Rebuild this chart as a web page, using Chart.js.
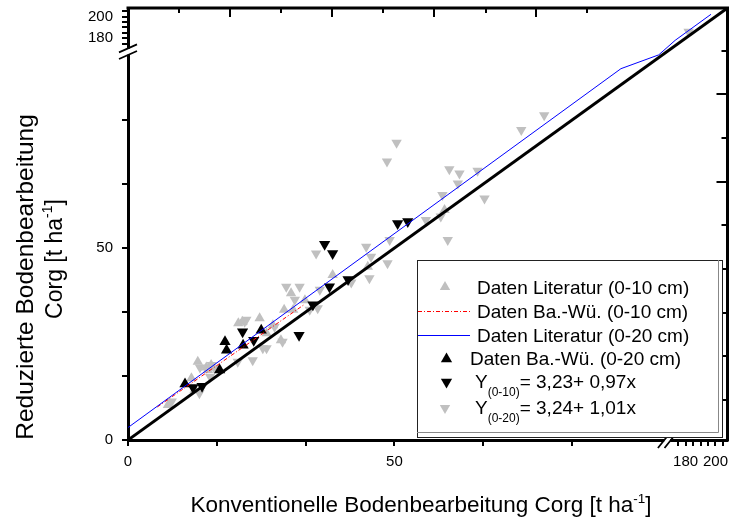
<!DOCTYPE html>
<html>
<head>
<meta charset="utf-8">
<script src="https://cdn.jsdelivr.net/npm/chart.js@4.4.1/dist/chart.umd.min.js"></script>
<style>
  html, body { margin: 0; padding: 0; background: #fff; }
  #wrap { width: 734px; height: 521px; }
</style>
</head>
<body>
<div id="wrap"><canvas id="myChart"></canvas></div>
<script>
// Achsenbruch: 0..101 linear, danach 167..208 gestaucht
const BRK = 101, UP0 = 167, K = 0.28, T_MAX = 112.5;
function tr(v) {
    if (v <= BRK) return v;
    if (v < UP0) return BRK;
    return BRK + (v - UP0) * K;
}

// Daten Literatur (0-10 cm)
const litUpX = [7.5, 11.9, 12.5, 13.1, 14.7, 15.0, 15.6, 20.7, 21.5, 24.7, 26.0, 27.2, 28.7, 29.3, 30.6, 31.0, 33.2,
    38.4, 45.0, 59.4];
const litUpY = [9.1, 16.1, 13.0, 20.4, 18.9, 18.2, 19.5, 30.4, 30.8, 31.7, 27.8, 29.9, 26.0, 33.9, 38.2, 33.9, 36.4,
    43.0, 45.1, 59.9];

// Y(0-20) graue Dreiecke
const lit20X = [8.2, 13.4, 13.5, 15.4, 15.7, 16.2, 20.6, 22.2, 23.4, 25.3, 26.0, 29.0, 27.5, 21.9, 29.7, 31.3, 34.1,
    35.6, 32.2, 36.0, 35.3, 41.9, 45.3, 44.7, 45.6, 48.7, 49.1, 48.6, 50.4, 55.9, 58.7, 60.0, 59.0, 61.9, 60.3, 62.2,
    65.6, 66.9, 73.8, 78.1, 182];
const lit20Y = [10.0, 12.2, 18.9, 16.5, 19.5, 18.7, 20.4, 31.3, 20.8, 23.9, 23.9, 25.6, 29.5, 30.8, 39.9, 36.5, 33.9,
    34.3, 39.9, 39.1, 48.6, 41.0, 42.1, 50.3, 47.7, 46.0, 52.1, 72.5, 77.4, 57.3, 58.2, 52.1, 63.8, 66.8, 70.5, 69.4,
    70.1, 62.9, 80.7, 84.6, 186];

// Daten Ba.-Wü. (0-20 cm)
const bw20X = [10.7, 17.2, 18.2, 18.5, 21.6, 25.0];
const bw20Y = [14.6, 18.2, 25.6, 23.4, 24.7, 28.6];

// Y(0-10) schwarze Dreiecke
const bw10X = [12.2, 13.9, 21.5, 23.6, 32.1, 34.7, 37.8, 41.3, 36.9, 38.4, 50.6, 52.5];
const bw10Y = [13.7, 14.0, 28.2, 26.0, 27.3, 35.2, 39.9, 41.8, 51.0, 48.6, 56.4, 56.9];

// Regressionslinien und 1:1-Linie
const lineLitX = [0, 92.5, 99.6, 173, 197];
const lineLitY = [3.24, 96.7, 100.3, 178, 202.2];
const lineBwX = [5.5, 33];
const lineBwY = [8.6, 35.2];
const diagX = [0, 208];
const diagY = [0, 208];

// Achsenbeschriftung
const tickLabels = [0, 50, 180, 200];
const minorTicks = [16.67, 33.33, 66.67, 83.33, 175, 185, 190, 195, 205];
const topTicks = [9.6, 19.2, 28.7, 38.3, 47.9, 57.5, 67.1, 76.6, 86.2];
const rightTicks = [10.5, 21.9, 33.2, 44.6, 55.9, 67.3, 78.6, 90.0, 101.3];

const GREY = '#c0c0c0';
const FONT = '"Liberation Sans", Arial, sans-serif';

function pts(xs, ys) {
    return xs.map((x, i) => ({ x: tr(x), y: tr(ys[i]) }));
}

function triangle(ctx, x, y, r, down, color) {
    const s = down ? -1 : 1;
    ctx.fillStyle = color;
    ctx.beginPath();
    ctx.moveTo(x, y - s * r);
    ctx.lineTo(x + r * 0.866, y + s * r / 2);
    ctx.lineTo(x - r * 0.866, y + s * r / 2);
    ctx.closePath();
    ctx.fill();
}

// Text mit Hoch-/Tiefstellung: parts = [[text, size, dy], ...]
function richText(ctx, parts, x, y) {
    let cx = x;
    parts.forEach(([t, size, dy]) => {
        ctx.font = size + 'px ' + FONT;
        ctx.fillText(t, cx, y + dy);
        cx += ctx.measureText(t).width;
    });
    return cx - x;
}

function richWidth(ctx, parts) {
    let w = 0;
    parts.forEach(([t, size]) => {
        ctx.font = size + 'px ' + FONT;
        w += ctx.measureText(t).width;
    });
    return w;
}

// feste Plotfläche, keine Extra-Ränder für überstehende Beschriftungen
function noPad(s) {
    s.paddingTop = 0;
    s.paddingBottom = 0;
    s.paddingLeft = 0;
    s.paddingRight = 0;
}

const axisDeco = {
    id: 'axisDeco',
    afterDraw(chart) {
        const { ctx, chartArea: a, scales: { x, y } } = chart;
        ctx.save();
        ctx.strokeStyle = '#000';
        ctx.lineCap = 'butt';

        // oberer und rechter Rahmen
        ctx.lineWidth = 3;
        ctx.beginPath();
        ctx.moveTo(a.left - 1.5, a.top);
        ctx.lineTo(a.right, a.top);
        ctx.lineTo(a.right, a.bottom + 1.5);
        ctx.stroke();

        // Striche unten / links (nach außen)
        ctx.lineWidth = 2;
        ctx.beginPath();
        [...tickLabels, ...minorTicks].forEach(v => {
            const px = Math.round(x.getPixelForValue(tr(v)));
            ctx.moveTo(px, a.bottom);
            ctx.lineTo(px, a.bottom + 6);
            const py = Math.round(y.getPixelForValue(tr(v)));
            ctx.moveTo(a.left - 6, py);
            ctx.lineTo(a.left, py);
        });
        // oben / rechts (nach innen)
        topTicks.forEach((v, i) => {
            const px = Math.round(x.getPixelForValue(v));
            ctx.moveTo(px, a.top);
            ctx.lineTo(px, a.top + (i % 2 ? 9 : 5));
        });
        rightTicks.forEach((v, i) => {
            const py = Math.round(y.getPixelForValue(v));
            ctx.moveTo(a.right, py);
            ctx.lineTo(a.right - (i % 2 ? 11 : 6), py);
        });
        ctx.stroke();

        // Bruchzeichen
        const bx = x.getPixelForValue(BRK) + 1;
        const by = y.getPixelForValue(BRK) - 0.5;
        ctx.fillStyle = '#fff';
        ctx.fillRect(bx - 3, a.bottom - 3, 6, 6);
        ctx.fillRect(a.left - 3, by - 3, 6, 6);
        ctx.lineWidth = 1.8;
        ctx.beginPath();
        [-3.3, 3.3].forEach(d => {
            ctx.moveTo(bx + d - 6, a.bottom + 8);
            ctx.lineTo(bx + d + 6, a.bottom - 7);
            ctx.moveTo(a.left - 9, by - d + 4);
            ctx.lineTo(a.left + 9, by - d - 4);
        });
        ctx.stroke();

        // Achsentitel
        ctx.fillStyle = '#000';
        ctx.textBaseline = 'alphabetic';
        ctx.textAlign = 'left';
        const xt = [['Konventionelle Bodenbearbeitung Corg [t ha', 22.5, 0], ['-1', 13.5, -9], [']', 22.5, 0]];
        richText(ctx, xt, 421 - richWidth(ctx, xt) / 2, 512);

        ctx.save();
        ctx.translate(33, 277);
        ctx.rotate(-Math.PI / 2);
        ctx.font = '24.5px ' + FONT;
        ctx.textAlign = 'center';
        ctx.fillText('Reduzierte Bodenbearbeitung', 0, 0);
        ctx.restore();

        ctx.save();
        ctx.translate(61.5, 259);
        ctx.rotate(-Math.PI / 2);
        ctx.textAlign = 'left';
        const yt = [['Corg [t ha', 23, 0], ['-1', 14, -10], [']', 23, 0]];
        richText(ctx, yt, -richWidth(ctx, yt) / 2, 0);
        ctx.restore();

        // Legende
        const L = 417, T = 260, R = 722, B = 437;
        ctx.fillStyle = '#fff';
        ctx.fillRect(L, T, R - L, B - T);
        ctx.lineWidth = 1;
        ctx.strokeStyle = '#222';
        ctx.strokeRect(L + 0.5, T + 0.5, R - L, B - T);
        ctx.strokeStyle = '#888';
        ctx.beginPath();
        ctx.moveTo(L, B - 4.5);
        ctx.lineTo(R - 3.5, B - 4.5);
        ctx.lineTo(R - 3.5, T);
        ctx.stroke();

        triangle(ctx, 445, 287, 6, false, GREY);
        ctx.lineWidth = 1;
        ctx.strokeStyle = '#ff0000';
        ctx.setLineDash([4, 2, 1, 2]);
        ctx.beginPath();
        ctx.moveTo(418, 311.5);
        ctx.lineTo(470, 311.5);
        ctx.stroke();
        ctx.setLineDash([]);
        ctx.strokeStyle = '#0000ff';
        ctx.beginPath();
        ctx.moveTo(418, 335.5);
        ctx.lineTo(470, 335.5);
        ctx.stroke();
        triangle(ctx, 446.5, 359, 6.5, false, '#000');
        triangle(ctx, 446.5, 382, 6.5, true, '#000');
        triangle(ctx, 445, 408, 6, true, GREY);

        ctx.fillStyle = '#000';
        ctx.font = '19px ' + FONT;
        ctx.fillText('Daten Literatur (0-10 cm)', 477, 294);
        ctx.fillText('Daten Ba.-Wü. (0-10 cm)', 477, 318);
        ctx.fillText('Daten Literatur (0-20 cm)', 477, 342);
        ctx.fillText('Daten Ba.-Wü. (0-20 cm)', 470, 365);
        richText(ctx, [['Y', 19, 0], ['(0-10)', 12, 8], ['= 3,23+ 0,97x', 19, 0]], 475, 388);
        richText(ctx, [['Y', 19, 0], ['(0-20)', 12, 8], ['= 3,24+ 1,01x', 19, 0]], 475, 414);

        ctx.restore();
    }
};

const ctx = document.getElementById('myChart').getContext('2d');
new Chart(ctx, {
    type: 'scatter',
    data: {
        datasets: [
            {
                label: 'Daten Literatur (0-10 cm)',
                data: pts(litUpX, litUpY),
                pointStyle: 'triangle', pointRadius: 6, pointBorderWidth: 0,
                backgroundColor: GREY, borderColor: GREY, order: 6
            },
            {
                label: 'Y(0-20)',
                data: pts(lit20X, lit20Y),
                pointStyle: 'triangle', pointRotation: 180, pointRadius: 6, pointBorderWidth: 0,
                backgroundColor: GREY, borderColor: GREY, order: 5
            },
            {
                label: 'Daten Ba.-Wü. (0-20 cm)',
                data: pts(bw20X, bw20Y),
                pointStyle: 'triangle', pointRadius: 6.5, pointBorderWidth: 0,
                backgroundColor: '#000', borderColor: '#000', order: 4
            },
            {
                label: 'Y(0-10)',
                data: pts(bw10X, bw10Y),
                pointStyle: 'triangle', pointRotation: 180, pointRadius: 6.5, pointBorderWidth: 0,
                backgroundColor: '#000', borderColor: '#000', order: 3
            },
            {
                label: 'Daten Ba.-Wü. (0-10 cm)',
                data: pts(lineBwX, lineBwY),
                showLine: true, pointRadius: 0, borderColor: 'red', borderWidth: 1,
                borderDash: [4, 2, 1, 2], order: 2
            },
            {
                label: 'Daten Literatur (0-20 cm)',
                data: pts(lineLitX, lineLitY),
                showLine: true, pointRadius: 0, borderColor: 'blue', borderWidth: 1, order: 1
            },
            {
                label: '1:1',
                data: pts(diagX, diagY),
                showLine: true, pointRadius: 0, borderColor: '#000', borderWidth: 3, order: 0
            }
        ]
    },
    options: {
        responsive: true,
        maintainAspectRatio: false,
        animation: false,
        layout: { padding: { top: 8, right: 5, left: 0, bottom: 0 } },
        plugins: { legend: { display: false }, tooltip: { enabled: false } },
        scales: {
            x: {
                type: 'linear', min: 0, max: T_MAX,
                afterFit: s => { s.height = 81; noPad(s); },
                afterBuildTicks: s => { s.ticks = tickLabels.map(v => ({ value: tr(v) })); },
                border: { display: true, color: '#000', width: 3 },
                grid: { display: false, drawTicks: false },
                ticks: {
                    autoSkip: false, maxRotation: 0, minRotation: 0, padding: 13, color: '#000',
                    font: { family: FONT, size: 15 },
                    callback: (v, i) => String(tickLabels[i])
                }
            },
            y: {
                type: 'linear', min: 0, max: T_MAX,
                afterFit: s => { s.width = 128; noPad(s); },
                afterBuildTicks: s => { s.ticks = tickLabels.map(v => ({ value: tr(v) })); },
                border: { display: true, color: '#000', width: 3 },
                grid: { display: false, drawTicks: false },
                ticks: {
                    autoSkip: false, padding: 15, color: '#000',
                    font: { family: FONT, size: 15 },
                    callback: (v, i) => String(tickLabels[i])
                }
            }
        }
    },
    plugins: [axisDeco]
});
</script>
</body>
</html>
